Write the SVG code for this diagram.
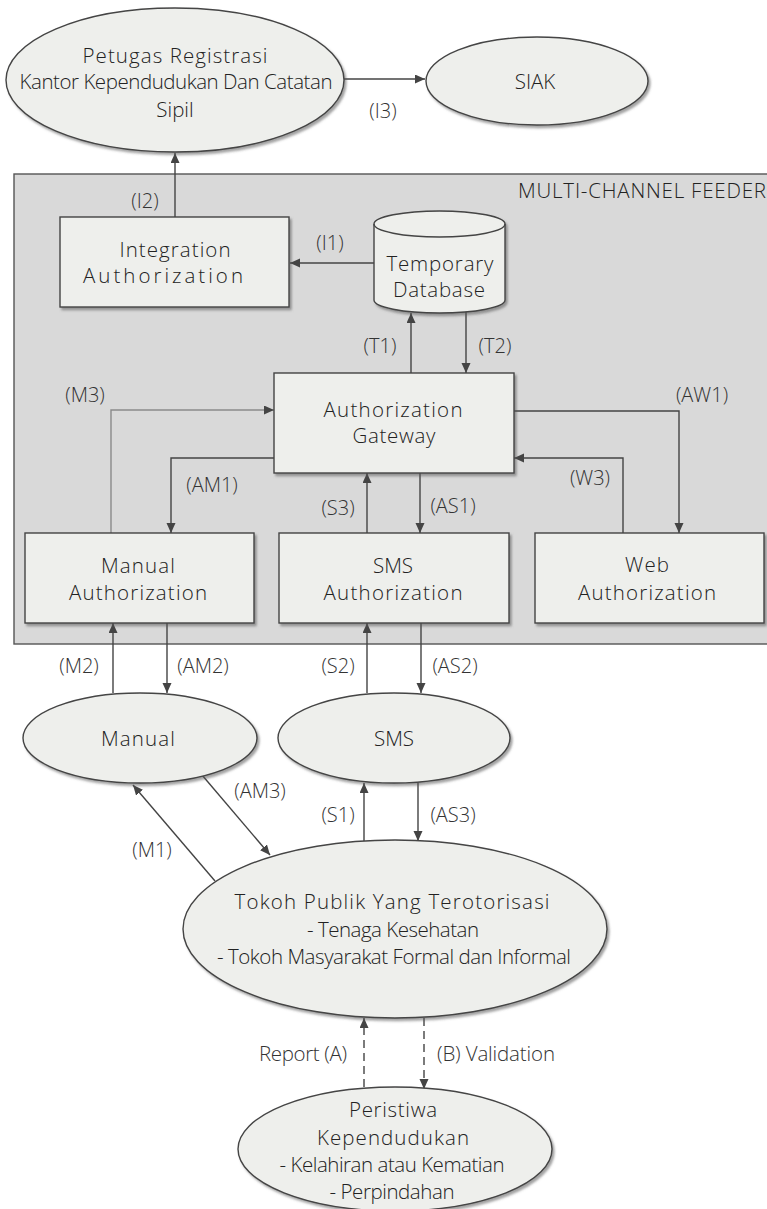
<svg xmlns="http://www.w3.org/2000/svg" width="767" height="1209" viewBox="0 0 767 1209">
  <defs>
    <marker id="arrow" markerUnits="userSpaceOnUse" markerWidth="11" markerHeight="10" refX="10" refY="4.5" orient="auto">
      <path d="M0,0 L10,4.5 L0,9 z" fill="#444"/>
    </marker>
    <filter id="shadow" x="-5%" y="-5%" width="112%" height="115%">
      <feDropShadow dx="2" dy="2.5" stdDeviation="1" flood-color="#555" flood-opacity="0.55"/>
    </filter>
  </defs>
  <style>
    text { font-family: "Open Sans", "Noto Sans", sans-serif; font-weight: 300; fill: #222; }
    .node text { font-size: 20.5px; text-anchor: middle; }
    .shape { fill: #eeefec; stroke: #444; stroke-width: 1.4; filter: url(#shadow); }
    .lbl { font-size: 20px; text-anchor: middle; fill: #333; }
    .lbl-end { font-size: 20.5px; text-anchor: end; fill: #333; }
    .lbl-start { font-size: 20.5px; text-anchor: start; fill: #333; }
    .conn { fill: none; stroke: #444; stroke-width: 1.4; }
    .arr { marker-end: url(#arrow); }
    .light { stroke: #8a8a8a; }
    .dash { stroke-dasharray: 8 5; }
  </style>

  <!-- container -->
  <g id="multi-channel-feeder">
    <rect x="14" y="174" width="770" height="470" fill="#d9d9d9" stroke="#555" stroke-width="1.4"/>
    <text x="766" y="198" font-size="20.5" text-anchor="end" textLength="248" lengthAdjust="spacing">MULTI-CHANNEL FEEDER</text>
  </g>

  <!-- connectors -->
  <g id="connectors">
    <path class="conn arr" d="M343,79 H425"/>
    <path class="conn arr" d="M175,217 V153"/>
    <path class="conn arr" d="M374,263 H290"/>
    <path class="conn arr" d="M411,373 V313"/>
    <path class="conn arr" d="M466,312 V373"/>
    <path class="conn arr light" d="M111,533 V410 H274"/>
    <path class="conn arr" d="M274,458 H171 V533"/>
    <path class="conn arr" d="M367,533 V473"/>
    <path class="conn arr" d="M420,473 V533"/>
    <path class="conn arr" d="M514,411 H679 V533"/>
    <path class="conn arr" d="M623,533 V458 H514"/>
    <path class="conn arr" d="M113,693 V623"/>
    <path class="conn arr" d="M167,623 V693"/>
    <path class="conn arr" d="M367,693 V623"/>
    <path class="conn arr" d="M421,623 V693"/>
    <path class="conn arr" d="M364,841 V783"/>
    <path class="conn arr" d="M418,783 V841"/>
    <path class="conn arr" d="M202,775 L270,855"/>
    <path class="conn arr" d="M215,881 L133,785"/>
    <path class="conn arr dash" d="M364,1087 V1018"/>
    <path class="conn arr dash" d="M424,1018 V1089"/>

    <text class="lbl" x="383" y="118">(I3)</text>
    <text class="lbl" x="145" y="208">(I2)</text>
    <text class="lbl" x="330" y="250">(I1)</text>
    <text class="lbl" x="380" y="353">(T1)</text>
    <text class="lbl" x="495" y="353">(T2)</text>
    <text class="lbl" x="85" y="402">(M3)</text>
    <text class="lbl" x="702" y="402">(AW1)</text>
    <text class="lbl" x="212" y="492">(AM1)</text>
    <text class="lbl" x="590" y="485">(W3)</text>
    <text class="lbl" x="338" y="515">(S3)</text>
    <text class="lbl" x="453" y="513">(AS1)</text>
    <text class="lbl" x="79" y="673">(M2)</text>
    <text class="lbl" x="203" y="673">(AM2)</text>
    <text class="lbl" x="338" y="673">(S2)</text>
    <text class="lbl" x="455" y="673">(AS2)</text>
    <text class="lbl" x="260" y="798">(AM3)</text>
    <text class="lbl" x="338" y="822">(S1)</text>
    <text class="lbl" x="453" y="822">(AS3)</text>
    <text class="lbl" x="152" y="857">(M1)</text>
    <text class="lbl-end" x="347" y="1061" textLength="88" lengthAdjust="spacing">Report (A)</text>
    <text class="lbl-start" x="437" y="1061" textLength="118" lengthAdjust="spacing">(B) Validation</text>
  </g>

  <!-- nodes -->
  <g id="petugas-registrasi" class="node">
    <ellipse class="shape" cx="175" cy="80" rx="169" ry="72"/>
    <text x="175" y="63" textLength="185" lengthAdjust="spacing">Petugas Registrasi</text>
    <text x="176" y="89" textLength="313" lengthAdjust="spacing">Kantor Kependudukan Dan Catatan</text>
    <text x="175" y="117">Sipil</text>
  </g>

  <g id="siak" class="node">
    <ellipse class="shape" cx="537" cy="81" rx="111" ry="44"/>
    <text x="535" y="89">SIAK</text>
  </g>

  <g id="integration-authorization" class="node">
    <rect class="shape" x="60" y="217" width="229" height="90"/>
    <text x="175" y="257" textLength="111" lengthAdjust="spacing">Integration</text>
    <text x="163" y="283" textLength="160" lengthAdjust="spacing">Authorization</text>
  </g>

  <g id="temporary-database" class="node">
    <path class="shape" d="M374,224 A65.5,13 0 0 1 505,224 V300 A65.5,13 0 0 1 374,300 Z"/>
    <path d="M374,224 A65.5,13 0 0 0 505,224" fill="none" stroke="#444" stroke-width="1.4"/>
    <text x="440" y="271" textLength="107" lengthAdjust="spacing">Temporary</text>
    <text x="439" y="297" textLength="92" lengthAdjust="spacing">Database</text>
  </g>

  <g id="authorization-gateway" class="node">
    <rect class="shape" x="274" y="373" width="240" height="100"/>
    <text x="393" y="417" textLength="139" lengthAdjust="spacing">Authorization</text>
    <text x="394" y="443" textLength="83" lengthAdjust="spacing">Gateway</text>
  </g>

  <g id="manual-authorization" class="node">
    <rect class="shape" x="25" y="533" width="229" height="90"/>
    <text x="138" y="573" textLength="74" lengthAdjust="spacing">Manual</text>
    <text x="138" y="600" textLength="138" lengthAdjust="spacing">Authorization</text>
  </g>

  <g id="sms-authorization" class="node">
    <rect class="shape" x="279" y="533" width="230" height="90"/>
    <text x="393" y="573">SMS</text>
    <text x="393" y="600" textLength="139" lengthAdjust="spacing">Authorization</text>
  </g>

  <g id="web-authorization" class="node">
    <rect class="shape" x="535" y="533" width="229" height="90"/>
    <text x="647" y="572" textLength="44" lengthAdjust="spacing">Web</text>
    <text x="647" y="600" textLength="138" lengthAdjust="spacing">Authorization</text>
  </g>

  <g id="manual" class="node">
    <ellipse class="shape" cx="140" cy="738" rx="117" ry="45"/>
    <text x="138" y="746" textLength="74" lengthAdjust="spacing">Manual</text>
  </g>

  <g id="sms" class="node">
    <ellipse class="shape" cx="394" cy="738" rx="116" ry="45"/>
    <text x="394" y="746">SMS</text>
  </g>

  <g id="tokoh-publik" class="node">
    <ellipse class="shape" cx="395" cy="929" rx="212" ry="89"/>
    <text x="392" y="909" textLength="315" lengthAdjust="spacing">Tokoh Publik Yang Terotorisasi</text>
    <text x="393" y="937" textLength="172" lengthAdjust="spacing">- Tenaga Kesehatan</text>
    <text x="394" y="964" textLength="354" lengthAdjust="spacing">- Tokoh Masyarakat Formal dan Informal</text>
  </g>

  <g id="peristiwa-kependudukan" class="node">
    <ellipse class="shape" cx="395" cy="1149" rx="157" ry="62"/>
    <text x="393" y="1117" textLength="88" lengthAdjust="spacing">Peristiwa</text>
    <text x="393" y="1145" textLength="152" lengthAdjust="spacing">Kependudukan</text>
    <text x="392" y="1172" textLength="225" lengthAdjust="spacing">- Kelahiran atau Kematian</text>
    <text x="392" y="1199" textLength="125" lengthAdjust="spacing">- Perpindahan</text>
  </g>
</svg>
